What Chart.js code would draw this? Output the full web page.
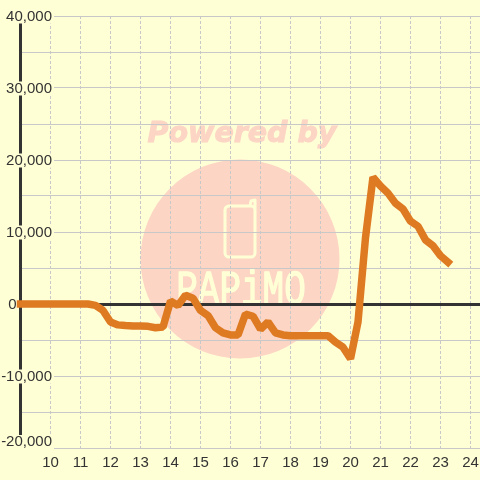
<!DOCTYPE html>
<html>
<head>
<meta charset="utf-8">
<script src="https://cdn.jsdelivr.net/npm/chart.js@4"></script>
<style>
html, body { margin: 0; padding: 0; background: #ffffd6; }
canvas { display: block; }
</style>
</head>
<body>
<canvas id="chart" width="480" height="480"></canvas>
<script>
const hours = [
  9, 9.25, 9.5, 9.75, 10, 10.25, 10.5, 10.75, 11, 11.25, 11.5, 11.75,
  12, 12.25, 12.5, 12.75, 13, 13.25, 13.5, 13.75, 14, 14.25, 14.5, 14.75,
  15, 15.25, 15.5, 15.75, 16, 16.25, 16.5, 16.75, 17, 17.25, 17.5, 17.75,
  18, 18.25, 18.5, 18.75, 19, 19.25, 19.5, 19.75, 20, 20.25, 20.5, 20.75,
  21, 21.25, 21.5, 21.75, 22, 22.25, 22.5, 22.75, 23, 23.25
]
const balance = [
  0, 0, 0, 0, 0, 0, 0, 0, 0, 0, -200, -900,
  -2500, -2900, -3000, -3050, -3050, -3100, -3300, -3200, 400, -200, 1200, 800,
  -900, -1600, -3300, -4000, -4300, -4300, -1400, -1700, -3500, -2500, -4000, -4300,
  -4400, -4400, -4400, -4400, -4400, -4400, -5300, -6000, -7600, -2500, 9200, 17600,
  16400, 15400, 14000, 13200, 11500, 10800, 8900, 8100, 6700, 5800
]
const xTicks = [10, 11, 12, 13, 14, 15, 16, 17, 18, 19, 20, 21, 22, 23, 24]
const yTicks = [40000, 35000, 30000, 25000, 20000, 15000, 10000, 5000, 0, -5000, -10000, -15000, -20000]
const yLabels = ['40,000', '', '30,000', '', '20,000', '', '10,000', '', '0', '', '-10,000', '', '-20,000']

const BG = '#ffffd6'
const PINK = '#fcd5c5'
const DARK = '#333333'
const GRID = '#c8c8c8'

// papimo logo behind the grid, and the tick labels moved where the original has them
const backdrop = {
  id: 'backdrop',
  beforeDraw(chart) {
    const ctx = chart.ctx
    ctx.save()
    ctx.fillStyle = BG
    ctx.fillRect(0, 0, 480, 480)

    ctx.fillStyle = PINK
    ctx.beginPath()
    ctx.arc(240, 259, 99.5, 0, Math.PI * 2)
    ctx.fill()

    ctx.font = 'italic bold 28.5px "DejaVu Sans"'
    ctx.textAlign = 'center'
    ctx.textBaseline = 'middle'
    ctx.strokeStyle = PINK
    ctx.lineWidth = 1
    ctx.fillText('Powered by', 242, 135)
    ctx.strokeText('Powered by', 242, 135)

    ctx.strokeStyle = BG
    ctx.lineWidth = 3
    ctx.lineJoin = 'round'
    ctx.lineCap = 'round'
    ctx.beginPath()
    ctx.roundRect(225, 206, 30, 51, 4)
    ctx.moveTo(250, 206)
    ctx.lineTo(251, 201)
    ctx.lineTo(255, 200)
    ctx.lineTo(255, 212)
    ctx.stroke()

    ctx.fillStyle = BG
    ctx.strokeStyle = BG
    ctx.lineWidth = 1
    ctx.font = '36px "Liberation Mono"'
    ctx.textBaseline = 'alphabetic'
    ctx.translate(241, 304)
    ctx.scale(1, 1.35)
    ctx.fillText('PAPiMO', 0, 0)
    ctx.strokeText('PAPiMO', 0, 0)
    ctx.restore()

    chart.scales.y.getLabelItems().forEach(item => {
      if (!item.label) return
      const y = item.options.translation[1]
      const zero = item.label === '0'
      const bottom = item.label === '-20,000'
      item.options.translation = [zero ? 16.5 : 52, bottom ? 442 : y + 0.5]
      item.options.textAlign = 'right'
      item.options.backdrop = { left: zero ? -17 : -52, top: -7, width: zero ? 17 : 54, height: 14, color: BG }
    })
  }
}

new Chart(document.getElementById('chart'), {
  type: 'line',
  data: {
    labels: hours,
    datasets: [{
      data: hours.map((h, i) => ({ x: h, y: balance[i] })),
      borderColor: '#de7a22',
      borderWidth: 7.5,
      borderCapStyle: 'square',
      borderJoinStyle: 'bevel',
      pointRadius: 0,
      tension: 0,
      fill: false,
      clip: false
    }]
  },
  options: {
    responsive: false,
    animation: false,
    layout: { autoPadding: false, padding: { top: 16 } },
    plugins: { legend: { display: false }, tooltip: { enabled: false } },
    scales: {
      x: {
        type: 'linear',
        min: 8.983,
        max: 24.317,
        afterBuildTicks: axis => { axis.ticks = xTicks.map(v => ({ value: v })) },
        afterFit: axis => {
          axis.height = 32
          axis.paddingLeft = axis.paddingRight = 0
        },
        grid: { color: GRID, lineWidth: 1, drawTicks: false },
        border: { display: false, dash: [3, 2] },
        ticks: {
          color: DARK,
          font: { family: '"Liberation Sans"', size: 15 },
          padding: 6,
          maxRotation: 0,
          autoSkip: false,
          callback: v => String(v)
        }
      },
      y: {
        min: -20000,
        max: 40000,
        afterBuildTicks: axis => { axis.ticks = yTicks.map(v => ({ value: v })) },
        afterFit: axis => {
          axis.width = 20
          axis.paddingTop = axis.paddingBottom = 0
        },
        grid: {
          drawTicks: false,
          color: ctx => ctx.tick && ctx.tick.value === 0 ? DARK : GRID,
          lineWidth: ctx => ctx.tick && ctx.tick.value === 0 ? 3 : 1
        },
        border: { display: true, color: DARK, width: 3 },
        ticks: {
          mirror: true,
          color: DARK,
          font: { family: '"Liberation Sans"', size: 15 },
          autoSkip: false,
          callback: v => yLabels[yTicks.indexOf(v)]
        }
      }
    }
  },
  plugins: [backdrop]
})
</script>
</body>
</html>
